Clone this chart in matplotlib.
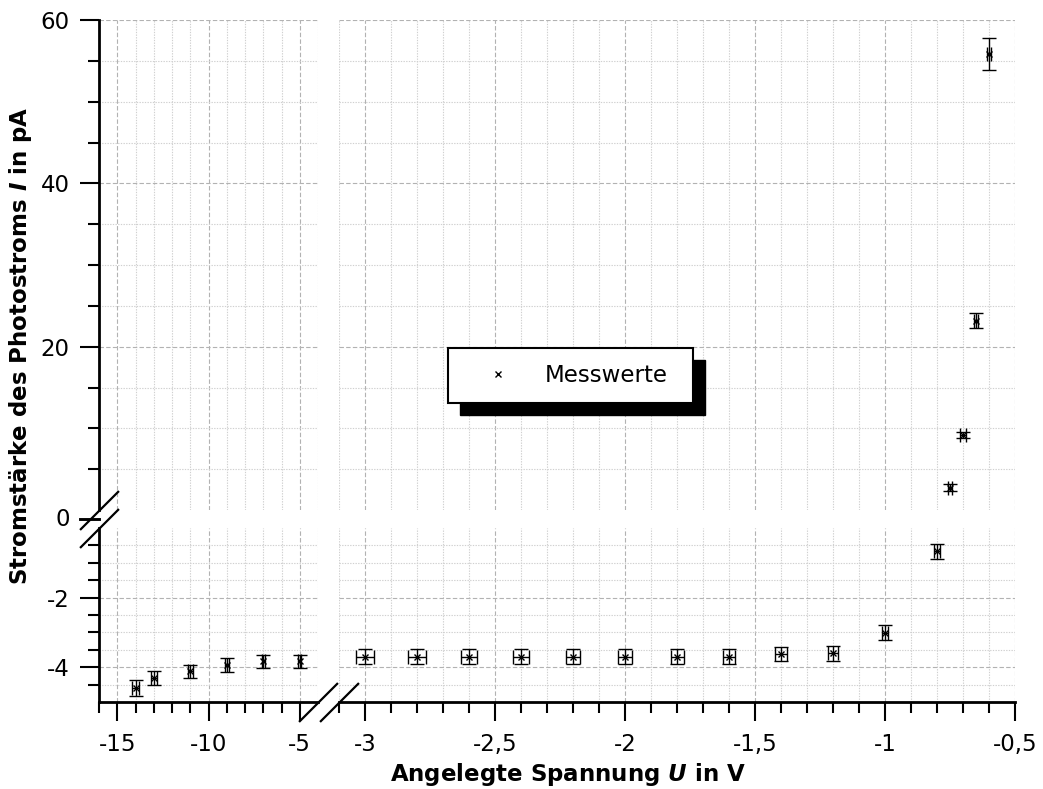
import matplotlib
matplotlib.use("Agg")
import matplotlib.pyplot as plt
from matplotlib.lines import Line2D
from matplotlib.patches import Rectangle

plt.rcParams['font.family'] = ['DejaVu Sans']
plt.rcParams['axes.unicode_minus'] = False
plt.rcParams['mathtext.fontset'] = 'dejavusans'

# ---------------- data ----------------
U_left = [-14, -13, -11, -9, -7, -5]
I_left = [-4.60, -4.31, -4.12, -3.94, -3.83, -3.83]
dI_left = [0.22, 0.21, 0.19, 0.21, 0.19, 0.19]
dU_left = [0.18, 0.17, 0.15, 0.12, 0.09, 0.07]

U_low = [-3.0, -2.8, -2.6, -2.4, -2.2, -2.0, -1.8, -1.6, -1.4, -1.2, -1.0, -0.8]
I_low = [-3.70, -3.70, -3.70, -3.70, -3.70, -3.70, -3.70, -3.70, -3.62, -3.60, -3.01, -0.67]
dI_low = [0.21, 0.21, 0.21, 0.21, 0.21, 0.21, 0.21, 0.21, 0.21, 0.21, 0.21, 0.21]
dU_low = [0.035, 0.034, 0.032, 0.030, 0.028, 0.027, 0.025, 0.024, 0.022, 0.020, 0.010, 0.010]

U_high = [-0.75, -0.70, -0.65, -0.60]
I_high = [2.75, 9.2, 23.15, 55.8]
dI_high = [0.45, 0.40, 0.92, 1.95]
dU_high = [0.008, 0.011, 0.008, 0.006]

legend_label = "Messwerte"
xlabel = r"Angelegte Spannung $\mathbfit{U}$ in V"
ylabel = r"Stromstärke des Photostroms $\mathbfit{I}$ in pA"

xmaj_left = [-15, -10, -5]
xmaj_left_lab = ["-15", "-10", "-5"]
xmin_left = [-16, -14, -13, -12, -11, -9, -8, -7, -6]
xmaj_right = [-3, -2.5, -2, -1.5, -1, -0.5]
xmaj_right_lab = ["-3", "-2,5", "-2", "-1,5", "-1", "-0,5"]
xmin_right = [-3.1, -2.9, -2.8, -2.7, -2.6, -2.4, -2.3, -2.2, -2.1, -1.9, -1.8,
              -1.7, -1.6, -1.4, -1.3, -1.2, -1.1, -0.9, -0.8, -0.7, -0.6]
ymaj_top = [20, 40, 60]
ymaj_top_lab = ["20", "40", "60"]
ymin_top = [5, 10, 15, 25, 30, 35, 45, 50, 55]
ymaj_bot = [-4, -2]
ymaj_bot_lab = ["-4", "-2"]
ymin_bot = [-4.5, -3.5, -3, -2.5, -1.5, -1, -0.5]
zero_label = "0"

# ---------------- figure ----------------
W, H = 1043, 789
fig = plt.figure(figsize=(W / 100, H / 100), dpi=100)


def px_axes(x0, y0, x1, y1):
    return fig.add_axes([x0 / W, 1 - y1 / H, (x1 - x0) / W, (y1 - y0) / H])


ax_tl = px_axes(99, 20, 318, 510)
ax_tr = px_axes(339, 20, 1015, 510)
ax_bl = px_axes(99, 528, 318, 702)
ax_br = px_axes(339, 528, 1015, 702)

FS = 16.5
MAJ_GRID = dict(color='#b2b2b2', linestyle=(0, (4, 2)), linewidth=0.8)
MIN_GRID = dict(color='#d0d0d0', linestyle=(0, (1.2, 1.2)), linewidth=0.8)

for ax in (ax_tl, ax_bl):
    ax.set_xlim(-16, -4)
    ax.set_xticks(xmaj_left, xmaj_left_lab)
    ax.set_xticks(xmin_left, minor=True)
for ax in (ax_tr, ax_br):
    ax.set_xlim(-3.1, -0.5)
    ax.set_xticks(xmaj_right, xmaj_right_lab)
    ax.set_xticks(xmin_right, minor=True)
for ax in (ax_tl, ax_tr):
    ax.set_ylim(0, 60)
    ax.set_yticks(ymaj_top, ymaj_top_lab)
    ax.set_yticks(ymin_top, minor=True)
for ax in (ax_bl, ax_br):
    ax.set_ylim(-5, 0)
    ax.set_yticks(ymaj_bot, ymaj_bot_lab)
    ax.set_yticks(ymin_bot, minor=True)

for ax in (ax_tl, ax_tr, ax_bl, ax_br):
    ax.set_axisbelow(True)
    ax.grid(which='major', **MAJ_GRID)
    ax.grid(which='minor', **MIN_GRID)
    for s in ax.spines.values():
        s.set_visible(False)
        s.set_linewidth(2.0)
    ax.tick_params(which='major', direction='out', length=14, width=1.5,
                   labelsize=FS, colors='k')
    ax.tick_params(which='minor', direction='out', length=8, width=1.5)
    ax.tick_params(axis='x', pad=8)
    ax.tick_params(axis='y', pad=7)
    ax.set_facecolor('none')

# grid line at the right edge of the left block (no tick there)
for ax in (ax_tl, ax_bl):
    ax.axvline(-4, zorder=0.5, **MIN_GRID)

ax_tl.spines['left'].set_visible(True)
ax_tl.tick_params(axis='x', which='both', length=0, labelbottom=False)
ax_tr.tick_params(axis='both', which='both', length=0, labelbottom=False, labelleft=False)
ax_bl.spines['left'].set_visible(True)
ax_bl.spines['bottom'].set_visible(True)
ax_br.spines['bottom'].set_visible(True)
ax_br.tick_params(axis='y', which='both', length=0, labelleft=False)

eb = dict(fmt='x', color='k', ecolor='k', ms=4, mew=1.0, elinewidth=1.0,
          capsize=4.8, capthick=1.0, zorder=3)
ax_bl.errorbar(U_left, I_left, yerr=dI_left, xerr=dU_left, **eb)
ax_br.errorbar(U_low, I_low, yerr=dI_low, xerr=dU_low, **eb)
ax_tr.errorbar(U_high, I_high, yerr=dI_high, xerr=dU_high, **eb)

# ---------------- axis break marks ----------------
tl = ax_tl.get_position()
bl = ax_bl.get_position()
br = ax_br.get_position()
brk = dict(marker=[(-1, -1), (1, 1)], markersize=28, markeredgewidth=1.6,
           color='k', linestyle='none', transform=fig.transFigure, clip_on=False)
fig.add_artist(Line2D([tl.x0], [tl.y0], **brk))
fig.add_artist(Line2D([bl.x0], [bl.y1], **brk))
fig.add_artist(Line2D([bl.x1], [bl.y0], **brk))
fig.add_artist(Line2D([br.x0], [br.y0], **brk))

# "0" tick placed in the gap between the two y-blocks
y_gap = (tl.y0 + bl.y1) / 2
tick_len = 14 * 100 / 72 / W
fig.add_artist(Line2D([bl.x0 - tick_len, bl.x0], [y_gap, y_gap], color='k',
                      linewidth=1.5 * 100 / 72, transform=fig.transFigure))
fig.text(bl.x0 - tick_len - 7 * 100 / 72 / W, y_gap, zero_label, ha='right',
         va='center', fontsize=FS, color='k')

# ---------------- axis labels ----------------
fig.text(568 / W, 1 - 781 / H, xlabel, ha='center', va='baseline',
         fontsize=FS, fontweight='bold')
fig.text(21 / W, 1 - 346 / H, ylabel, ha='center', va='center', rotation=90,
         fontsize=FS, fontweight='bold')

# ---------------- legend with black drop shadow ----------------
fig.add_artist(Rectangle((460 / W, 1 - 415 / H), 245 / W, 55 / H,
                         transform=fig.transFigure, facecolor='k',
                         edgecolor='k', zorder=1))
fig.add_artist(Rectangle((448 / W, 1 - 403 / H), 245 / W, 55 / H,
                         transform=fig.transFigure, facecolor='white',
                         edgecolor='k', linewidth=1.5, zorder=1.1))
proxy = Line2D([], [], marker='x', linestyle='none', color='k', ms=4, mew=1.0)
fig.legend([proxy], [legend_label], loc='center left',
           bbox_to_anchor=(475 / W, 1 - 375.5 / H), frameon=False,
           borderpad=0, borderaxespad=0, handlelength=2.0,
           handletextpad=1.04, fontsize=FS)

fig.savefig("out.png", dpi=100)
